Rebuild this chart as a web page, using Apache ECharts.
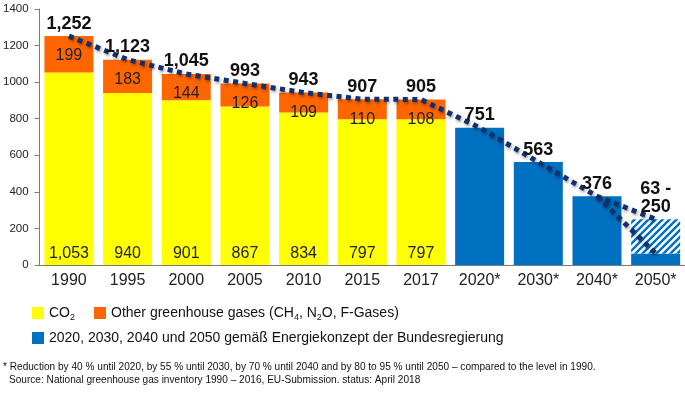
<!DOCTYPE html>
<html>
<head>
<meta charset="utf-8">
<script src="https://cdn.jsdelivr.net/npm/echarts@6/dist/echarts.min.js"></script>
<style>
    html, body { margin: 0; padding: 0; background: #fff; }
    #chart { width: 685px; height: 395px; }
</style>
</head>
<body>
<div id="chart"></div>
<script>
const years = ['1990', '1995', '2000', '2005', '2010', '2015', '2017', '2020*', '2030*', '2040*', '2050*']
const co2 = [1053, 940, 901, 867, 834, 797, 797, '-', '-', '-', '-']
const otherGases = [199, 183, 144, 126, 109, 110, 108, '-', '-', '-', '-']
const targets = ['-', '-', '-', '-', '-', '-', '-', 751, 563, 376, 63]
const targetRange = ['-', '-', '-', '-', '-', '-', '-', '-', '-', '-', 187]
const trend = [1252, 1123, 1045, 993, 943, 907, 905, 751, 563, 376, 250]
const trendLow = ['-', '-', '-', '-', '-', '-', '-', '-', '-', 376, 63]
const totalLabels = ['1,252', '1,123', '1,045', '993', '943', '907', '905', '751', '563', '376', '63 -\n250']
const yTicks = [0, 200, 400, 600, 800, 1000, 1200, 1400]

const CO2_NAME = 'CO2'
const OTHER_NAME = 'Other greenhouse gases (CH4, N2O, F-Gases)'
const TARGET_NAME = '2020, 2030, 2040 und 2050 gemäß Energiekonzept der Bundesregierung'

const BLUE = '#0070C0'
const DOT_COLOR = '#13306e'

// diagonal stripes for the 2050 range
const hatch = document.createElement('canvas')
hatch.width = 7
hatch.height = 7
const hctx = hatch.getContext('2d')
hctx.fillStyle = '#fff'
hctx.fillRect(0, 0, 7, 7)
hctx.strokeStyle = BLUE
hctx.lineWidth = 2.4
hctx.beginPath()
hctx.moveTo(-1, 8); hctx.lineTo(8, -1)
hctx.moveTo(-1, 1); hctx.lineTo(1, -1)
hctx.moveTo(6, 8); hctx.lineTo(8, 6)
hctx.stroke()

const chart = echarts.init(document.getElementById('chart'))

const dotLine = {
    color: DOT_COLOR,
    width: 5,
    type: [5, 4.5],
    shadowColor: 'rgba(0,0,0,0.35)',
    shadowBlur: 3,
    shadowOffsetX: 1,
    shadowOffsetY: 2,
}

const legendRich = {
    n: { fontSize: 14, color: '#111', lineHeight: 18, fontFamily: 'Liberation Sans' },
    s: { fontSize: 9, color: '#111', lineHeight: 9, verticalAlign: 'bottom', fontFamily: 'Liberation Sans' },
}

const legendFormatter = name => {
    if (name === CO2_NAME) return '{n|CO}{s|2}'
    if (name === OTHER_NAME) return '{n|Other greenhouse gases (CH}{s|4}{n|, N}{s|2}{n|O, F-Gases)}'
    return '{n|' + name + '}'
}

chart.setOption({
    animation: false,
    textStyle: { fontFamily: 'Liberation Sans' },
    grid: { left: 37, right: 0, top: 9, bottom: 130 },
    legend: [
        {
            left: 27,
            top: 301,
            icon: 'rect',
            itemWidth: 12,
            itemHeight: 12,
            itemGap: 19,
            selectedMode: false,
            data: [CO2_NAME, OTHER_NAME],
            formatter: legendFormatter,
            textStyle: { rich: legendRich },
        },
        {
            left: 27,
            top: 326,
            icon: 'rect',
            itemWidth: 12,
            itemHeight: 12,
            selectedMode: false,
            data: [TARGET_NAME],
            formatter: legendFormatter,
            textStyle: { rich: legendRich },
        },
    ],
    xAxis: {
        type: 'category',
        data: years,
        axisLine: { lineStyle: { color: '#7a7a7a', width: 1 } },
        axisTick: { show: false },
        axisLabel: { color: '#222', fontSize: 16, margin: 8 },
    },
    yAxis: {
        type: 'value',
        min: yTicks[0],
        max: yTicks[yTicks.length - 1],
        interval: yTicks[1] - yTicks[0],
        axisLine: { show: true, lineStyle: { color: '#7a7a7a' } },
        axisTick: { show: true, length: 5, lineStyle: { color: '#7a7a7a' } },
        splitLine: { show: false },
        axisLabel: { color: '#222', fontSize: 11.5, margin: 11, formatter: v => String(v) },
    },
    series: [
        {
            name: CO2_NAME,
            type: 'bar',
            stack: 'total',
            barWidth: 49,
            data: co2,
            itemStyle: { color: '#FFFF00' },
            label: {
                show: true,
                position: 'insideBottom',
                distance: 3,
                color: '#222',
                fontSize: 16,
                formatter: p => p.value.toLocaleString('en-US'),
            },
        },
        {
            name: OTHER_NAME,
            type: 'bar',
            stack: 'total',
            barWidth: 49,
            data: otherGases,
            itemStyle: { color: '#FF6600' },
            label: {
                show: true,
                position: 'insideTop',
                distance: 12,
                color: '#222',
                fontSize: 16,
            },
        },
        {
            name: TARGET_NAME,
            type: 'bar',
            stack: 'total',
            barWidth: 49,
            data: targets,
            itemStyle: { color: BLUE },
        },
        {
            name: '2050 range',
            type: 'bar',
            stack: 'total',
            barWidth: 49,
            data: targetRange,
            itemStyle: { color: { image: hatch, repeat: 'repeat' } },
        },
        {
            name: 'trend',
            type: 'line',
            data: trend,
            symbol: 'circle',
            symbolSize: 1,
            showSymbol: true,
            z: 5,
            itemStyle: { color: 'rgba(0,0,0,0)' },
            lineStyle: dotLine,
            label: {
                show: true,
                position: 'top',
                distance: 3,
                color: '#111',
                fontSize: 18,
                fontWeight: 'bold',
                lineHeight: 18,
                formatter: p => totalLabels[p.dataIndex],
            },
        },
        {
            name: 'trend low',
            type: 'line',
            data: trendLow,
            symbol: 'none',
            z: 5,
            lineStyle: dotLine,
        },
    ],
    graphic: [
        {
            type: 'text',
            left: 3,
            top: 362,
            style: {
                text: '* Reduction by 40 % until 2020, by 55 % until 2030, by 70 % until 2040 and by 80 to 95 % until 2050 – compared to the level in 1990.',
                fontSize: 10.1,
                fontFamily: 'Liberation Sans',
                fill: '#111',
            },
        },
        {
            type: 'text',
            left: 9,
            top: 375,
            style: {
                text: 'Source: National greenhouse gas inventory 1990 – 2016, EU-Submission. status: April 2018',
                fontSize: 10.1,
                fontFamily: 'Liberation Sans',
                fill: '#111',
            },
        },
    ],
})
</script>
</body>
</html>
